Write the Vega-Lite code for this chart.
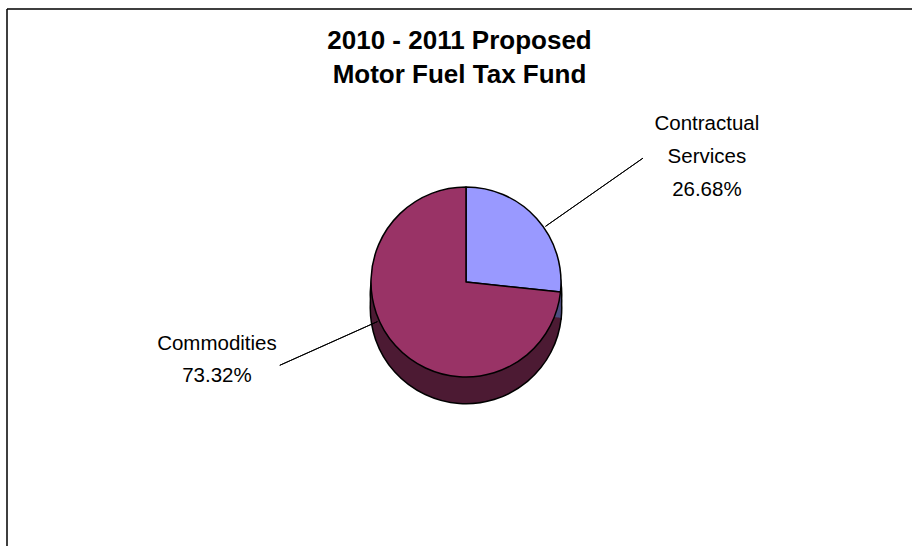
{
  "$schema": "https://vega.github.io/schema/vega-lite/v6.json",
  "width": 905,
  "height": 537,
  "autosize": {"type": "none"},
  "padding": {"left": 7, "top": 9, "right": 0, "bottom": 0},
  "background": "#ffffff",
  "view": {"stroke": "#000000", "strokeWidth": 1.5, "fill": "#ffffff", "strokeDash": [905, 1442, 537, 0]},
  "config": {
    "text": {"font": "Liberation Sans", "fontSize": 20.5, "color": "#000000"}
  },
  "title": {
    "text": ["2010 - 2011 Proposed", "Motor Fuel Tax Fund"],
    "font": "Liberation Sans",
    "fontSize": 26,
    "fontWeight": "bold",
    "color": "#000000",
    "anchor": "middle",
    "frame": "group",
    "lineHeight": 34,
    "offset": -79
  },
  "data": {
    "values": [
      {"category": "Contractual Services", "share": 0.2668},
      {"category": "Commodities", "share": 0.7332}
    ]
  },
  "transform": [
    {"stack": "share", "groupby": [], "sort": [{"field": "category", "order": "descending"}], "as": ["start", "end"]}
  ],
  "layer": [
    {
      "mark": {"type": "arc", "outerRadius": 95, "xOffset": 6.5, "yOffset": 17.5, "stroke": "#000000", "strokeWidth": 3},
      "encoding": {
        "theta": {"field": "start", "type": "quantitative", "stack": null, "scale": {"domain": [0, 1]}},
        "theta2": {"field": "end"},
        "fill": {"condition": {"test": "datum.category === 'Commodities'", "value": "#4C1A33"}, "value": "#4D4D80"}
      }
    },
    {
      "mark": {"type": "arc", "outerRadius": 95, "xOffset": 6.5, "yOffset": 30.5, "stroke": "#000000", "strokeWidth": 3},
      "encoding": {
        "theta": {"field": "start", "type": "quantitative", "stack": null},
        "theta2": {"field": "end"},
        "fill": {"condition": {"test": "datum.category === 'Commodities'", "value": "#4C1A33"}, "value": "#4D4D80"}
      }
    },
    {
      "mark": {"type": "arc", "outerRadius": 95, "xOffset": 6.5, "yOffset": 17.5, "strokeWidth": 0},
      "encoding": {
        "theta": {"field": "start", "type": "quantitative", "stack": null},
        "theta2": {"field": "end"},
        "fill": {"condition": {"test": "datum.category === 'Commodities'", "value": "#4C1A33"}, "value": "#4D4D80"}
      }
    },
    {
      "mark": {"type": "arc", "outerRadius": 95, "xOffset": 6.5, "yOffset": 30.5, "strokeWidth": 0},
      "encoding": {
        "theta": {"field": "start", "type": "quantitative", "stack": null},
        "theta2": {"field": "end"},
        "fill": {"condition": {"test": "datum.category === 'Commodities'", "value": "#4C1A33"}, "value": "#4D4D80"}
      }
    },
    {
      "mark": {"type": "arc", "outerRadius": 95, "xOffset": 6.5, "yOffset": 4.5, "stroke": "#000000", "strokeWidth": 1.5, "strokeJoin": "round"},
      "encoding": {
        "theta": {"field": "start", "type": "quantitative", "stack": null},
        "theta2": {"field": "end"},
        "fill": {"condition": {"test": "datum.category === 'Commodities'", "value": "#993366"}, "value": "#9999FF"}
      }
    },
    {
      "transform": [
        {"fold": ["start", "end"], "as": ["edge", "angle"]},
        {"aggregate": [{"op": "mean", "field": "angle", "as": "mid"}], "groupby": ["category", "share"]},
        {"filter": "datum.category === 'Contractual Services'"}
      ],
      "layer": [
        {
          "mark": {"type": "arc", "radius": 216, "radius2": 97, "thetaOffset": 0.122, "theta2Offset": 0.122, "xOffset": 6.5, "yOffset": 4.5, "stroke": "#000000", "strokeWidth": 1, "fill": null},
          "encoding": {"theta": {"field": "mid", "type": "quantitative", "stack": null}, "theta2": {"field": "mid"}}
        },
        {
          "mark": {"type": "text", "radius": 270, "thetaOffset": 0.264, "xOffset": 6.5, "yOffset": 4.5, "dy": -36, "align": "center", "baseline": "middle", "lineBreak": " ", "lineHeight": 33},
          "encoding": {"theta": {"field": "mid", "type": "quantitative", "stack": null}, "text": {"field": "category"}}
        },
        {
          "mark": {"type": "text", "radius": 270, "thetaOffset": 0.264, "xOffset": 6.5, "yOffset": 4.5, "dy": 30, "align": "center", "baseline": "middle"},
          "encoding": {"theta": {"field": "mid", "type": "quantitative", "stack": null}, "text": {"field": "share", "type": "quantitative", "format": ".2%"}}
        }
      ]
    },
    {
      "transform": [
        {"fold": ["start", "end"], "as": ["edge", "angle"]},
        {"aggregate": [{"op": "mean", "field": "angle", "as": "mid"}], "groupby": ["category", "share"]},
        {"filter": "datum.category === 'Commodities'"}
      ],
      "layer": [
        {
          "mark": {"type": "arc", "radius": 204, "radius2": 97, "thetaOffset": 0.312, "theta2Offset": 0.312, "xOffset": 6.5, "yOffset": 4.5, "stroke": "#000000", "strokeWidth": 1, "fill": null},
          "encoding": {"theta": {"field": "mid", "type": "quantitative", "stack": null}, "theta2": {"field": "mid"}}
        },
        {
          "mark": {"type": "text", "radius": 261, "thetaOffset": 0.429, "xOffset": 6.5, "yOffset": 4.5, "dy": -16, "align": "center", "baseline": "middle"},
          "encoding": {"theta": {"field": "mid", "type": "quantitative", "stack": null}, "text": {"field": "category"}}
        },
        {
          "mark": {"type": "text", "radius": 261, "thetaOffset": 0.429, "xOffset": 6.5, "yOffset": 4.5, "dy": 16, "align": "center", "baseline": "middle"},
          "encoding": {"theta": {"field": "mid", "type": "quantitative", "stack": null}, "text": {"field": "share", "type": "quantitative", "format": ".2%"}}
        }
      ]
    }
  ]
}
